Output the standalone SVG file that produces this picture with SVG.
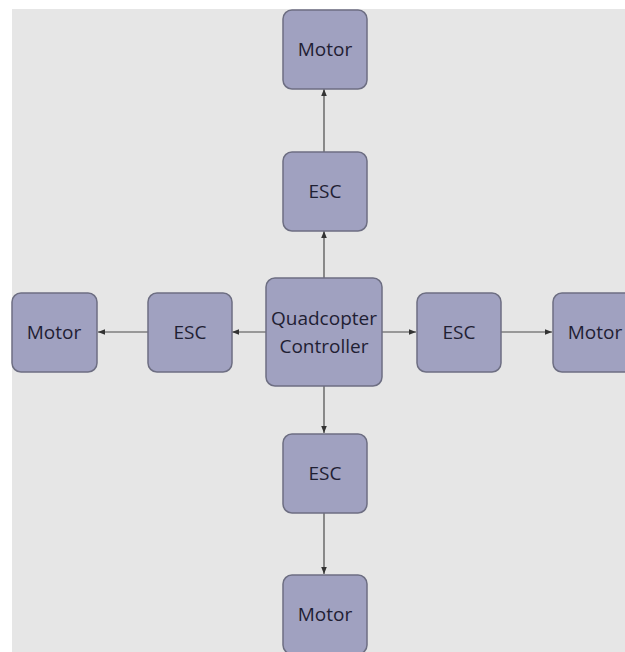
<svg xmlns="http://www.w3.org/2000/svg" width="625" height="652" viewBox="0 0 625 652">
<defs>
<style>
.box{fill:#a0a1c0;stroke:#6d6e82;stroke-width:1.5}
.lbl{font-family:"Open Sans","Liberation Sans",sans-serif;font-size:19px;fill:#1f2033;text-anchor:middle}
.conn{stroke:#4a4a4a;stroke-width:1.2;fill:none;marker-end:url(#ah)}
</style>
<marker id="ah" viewBox="0 0 10 10" refX="10" refY="5" markerWidth="7" markerHeight="7" markerUnits="userSpaceOnUse" orient="auto">
<path d="M0,1 L10,5 L0,9 z" fill="#333"/>
</marker>
</defs>
<rect x="0" y="0" width="625" height="652" fill="#ffffff"/>
<rect x="12" y="9" width="613" height="643" fill="#e6e6e6"/>
<g id="connectors">
<line class="conn" x1="324" y1="152" x2="324" y2="89"/>
<line class="conn" x1="324" y1="278" x2="324" y2="231"/>
<line class="conn" x1="266" y1="332" x2="232" y2="332"/>
<line class="conn" x1="148" y1="332" x2="98" y2="332"/>
<line class="conn" x1="382" y1="332" x2="416" y2="332"/>
<line class="conn" x1="501" y1="332" x2="552" y2="332"/>
<line class="conn" x1="324" y1="386" x2="324" y2="433"/>
<line class="conn" x1="324" y1="513" x2="324" y2="574"/>
</g>
<g id="motor-top"><rect class="box" x="283" y="10" width="84" height="79" rx="9"/><text class="lbl" x="325" y="56">Motor</text></g>
<g id="esc-top"><rect class="box" x="283" y="152" width="84" height="79" rx="9"/><text class="lbl" x="325" y="198">ESC</text></g>
<g id="controller"><rect class="box" x="266" y="278" width="116" height="108" rx="9"/><text class="lbl" x="324" y="325">Quadcopter</text><text class="lbl" x="324" y="353">Controller</text></g>
<g id="esc-left"><rect class="box" x="148" y="293" width="84" height="79" rx="9"/><text class="lbl" x="190" y="339">ESC</text></g>
<g id="motor-left"><rect class="box" x="12" y="293" width="85" height="79" rx="9"/><text class="lbl" x="54" y="339">Motor</text></g>
<g id="esc-right"><rect class="box" x="417" y="293" width="84" height="79" rx="9"/><text class="lbl" x="459" y="339">ESC</text></g>
<g id="motor-right"><rect class="box" x="553" y="293" width="84" height="79" rx="9"/><text class="lbl" x="595" y="339">Motor</text></g>
<g id="esc-bottom"><rect class="box" x="283" y="434" width="84" height="79" rx="9"/><text class="lbl" x="325" y="480">ESC</text></g>
<g id="motor-bottom"><rect class="box" x="283" y="575" width="84" height="79" rx="9"/><text class="lbl" x="325" y="621">Motor</text></g>
</svg>
